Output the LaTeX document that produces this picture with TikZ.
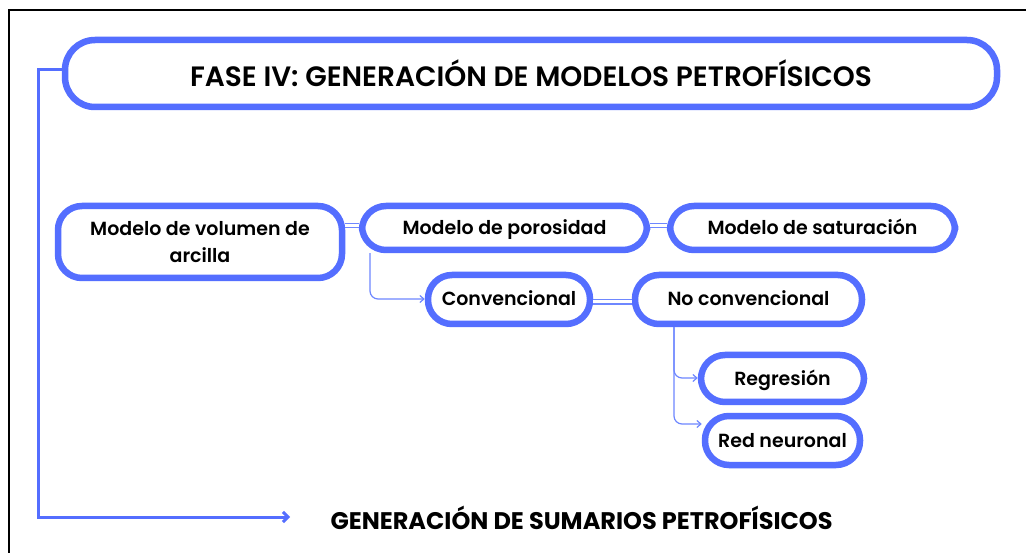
\documentclass[tikz,border=0pt]{standalone}
\usepackage{fontspec}
\setmainfont{Poppins}
\newfontfamily\popsb{Poppins SemiBold}
\newfontfamily\popb{Poppins Bold}
\usetikzlibrary{arrows.meta}
\definecolor{bl}{RGB}{84,110,255}
\definecolor{bll}{RGB}{110,135,255}
\tikzset{
  box/.style={draw=bl, line width=6.5pt, fill=white, rounded corners=24pt, inner sep=0pt, font=\popsb\fontsize{19}{27}\selectfont, align=center},
  one/.style={text height=15pt, text depth=2pt},
  dbl/.style={draw=bll, line width=1.2pt, double=white, double distance=3pt},
  conn/.style={draw=bll, line width=1.2pt, rounded corners=8pt, -{Straight Barb[length=4pt,width=7pt]}},
}
\begin{document}
\begin{tikzpicture}[x=1pt,y=-1pt]
\useasboundingbox (0,0) rectangle (1026,553);
\fill[white] (0,0) rectangle (1026,553);
\draw[line width=2.5pt,black] (9,553) -- (9,10) -- (1026,10);
% nodes
\node[box, minimum width=932pt, minimum height=67pt, rounded corners=30pt, font=\popsb\fontsize{28}{30}\selectfont] (title) at (531,73.5) {FASE IV: GENERACIÓN DE MODELOS PETROFÍSICOS};
\node[box, minimum width=284pt, minimum height=72pt] (arc) at (200,242) {Modelo de volumen de\\arcilla};
\node[box, one, minimum width=285pt, minimum height=44pt] (por) at (504.5,228) {Modelo de porosidad};
\node[box, one, minimum width=285pt, minimum height=44pt] (sat) at (812.5,228) {Modelo de saturación};
\node[box, one, minimum width=162pt, minimum height=49pt] (conv) at (509,299.5) {Convencional};
\node[box, one, minimum width=227pt, minimum height=49pt] (noconv) at (748.5,299.5) {No convencional};
\node[box, one, minimum width=163pt, minimum height=47pt] (reg) at (782.5,378.5) {Regresión};
\node[box, one, minimum width=155pt, minimum height=49pt] (red) at (782.5,440.5) {Red neuronal};
\node[font=\popb\fontsize{24}{28}\selectfont, anchor=west] (sum) at (327,518) {GENERACIÓN DE SUMARIOS PETROFÍSICOS};
% connectors
\draw[dbl] (arc.east |- 0,225.5) -- (por.west |- 0,225.5);
\draw[dbl] (por.east |- 0,225.5) -- (sat.west |- 0,225.5);
\draw[dbl] (conv.east |- 0,302) -- (noconv.west |- 0,302);
\draw[conn] (por.south -| 370,0) -- (370,299) -- (conv.west |- 0,299);
\draw[conn] (noconv.south -| 674,0) -- (674,378) -- (reg.west |- 0,378);
\draw[conn] (noconv.south -| 674,0) -- (674,424) -- (red.west |- 0,424);
\coordinate (lc) at (38,70);
\coordinate (bc) at (38,517);
\draw[draw=bl, line width=3pt, -{Straight Barb[length=5pt,width=10pt]}] (title.west |- 0,70) -- (lc) -- (bc) -- (290,517) coordinate (end);
\end{tikzpicture}
\end{document}
